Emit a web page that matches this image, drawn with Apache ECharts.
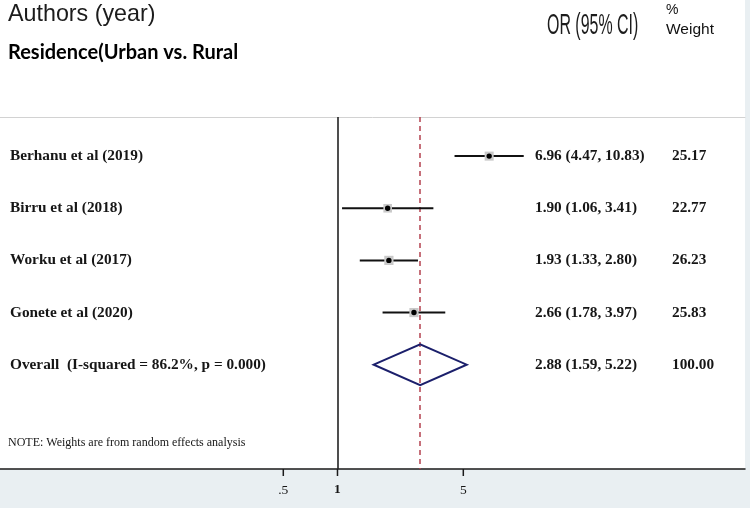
<!DOCTYPE html>
<html>
<head>
<meta charset="utf-8">
<script src="https://cdn.jsdelivr.net/npm/echarts@6/dist/echarts.min.js"></script>
<style>
html,body{margin:0;padding:0;background:#e9eff2;}
#chart{width:750px;height:508px;}
</style>
</head>
<body>
<div id="chart"></div>
<script>
// ---- data ----
const studies = ['Berhanu et al (2019)', 'Birru et al (2018)', 'Worku et al (2017)', 'Gonete et al (2020)'];
const orValues = [6.96, 1.90, 1.93, 2.66];
const ciLower = [4.47, 1.06, 1.33, 1.78];
const ciUpper = [10.83, 3.41, 2.80, 3.97];
const weights = [25.17, 22.77, 26.23, 25.83];

const overallLabel = 'Overall  (I-squared = 86.2%, p = 0.000)';
const overallOR = 2.88;
const overallLower = 1.59;
const overallUpper = 5.22;
const overallWeight = 100.00;

const noteText = 'NOTE: Weights are from random effects analysis';
const tickValues = [0.5, 1, 5];
const tickLabels = ['.5', '1', '5'];

// ---- build ----
const fmt = v => v.toFixed(2);
const studyData = studies.map((s, i) => [ciLower[i], ciUpper[i], orValues[i], i, weights[i]]);
const textRows = studies.map((s, i) => [i, s, fmt(orValues[i]) + ' (' + fmt(ciLower[i]) + ', ' + fmt(ciUpper[i]) + ')', fmt(weights[i])]);
textRows.push([studies.length, overallLabel, fmt(overallOR) + ' (' + fmt(overallLower) + ', ' + fmt(overallUpper) + ')', fmt(overallWeight)]);
textRows.push([studies.length + 1.5, noteText, '', '']);

const xMin = 0.01334, xMax = 183.6;
const yMin = -0.75, yMax = 6;
const serif = '"Liberation Serif", "DejaVu Serif", serif';
const sans = '"Liberation Sans", Arial, sans-serif';
const txtColor = '#161616';

const chart = echarts.init(document.getElementById('chart'), null, {renderer: 'canvas'});
chart.setOption({
  backgroundColor: '#e9eff2',
  animation: false,
  graphic: [
    {type: 'rect', z: -10, shape: {x: 0, y: 0, width: 745, height: 469}, style: {fill: '#ffffff'}, silent: true},
    {type: 'text', x: 8, y: 2, scaleX: 0.97, style: {text: 'Authors (year)', font: '24px ' + sans, fill: '#1c1c1c'}},
    {type: 'text', x: 8, y: 43, style: {text: 'Residence(Urban vs. Rural', font: 'bold 20px Lato, "Open Sans", sans-serif', fill: '#000'}},
    {type: 'text', x: 547, y: 11, scaleX: 0.55, style: {text: 'OR (95% CI)', font: '29px ' + sans, fill: '#1c1c1c'}},
    {type: 'text', x: 666, y: 3, style: {text: '%', font: '14px ' + sans, fill: '#111'}},
    {type: 'text', x: 666, y: 22, style: {text: 'Weight', font: '15.5px ' + sans, fill: '#111'}}
  ],
  grid: {left: 0, right: 5, top: 117, bottom: 39, containLabel: false},
  xAxis: [
    {type: 'log', logBase: 10, min: xMin, max: xMax, position: 'bottom',
     axisLine: {show: true, onZero: false, lineStyle: {color: '#1a1a1a', width: 1.5}},
     axisTick: {show: false}, axisLabel: {show: false}, splitLine: {show: false}, minorTick: {show: false}},
    {type: 'log', logBase: 10, min: xMin, max: xMax, position: 'top',
     axisLine: {show: true, onZero: false, lineStyle: {color: '#d2d2d2', width: 1}},
     axisTick: {show: false}, axisLabel: {show: false}, splitLine: {show: false}}
  ],
  yAxis: {type: 'value', inverse: true, min: yMin, max: yMax, show: false},
  series: [
    {
      type: 'custom', name: 'studies', data: studyData, z: 5,
      renderItem: function (params, api) {
        const lo = api.value(0), hi = api.value(1), or = api.value(2), row = api.value(3), w = api.value(4);
        const p1 = api.coord([lo, row]), p2 = api.coord([hi, row]), pc = api.coord([or, row]);
        const s = 9 * Math.sqrt(w / 25);
        return {type: 'group', children: [
          {type: 'line', shape: {x1: p1[0], y1: p1[1], x2: p2[0], y2: p2[1]}, style: {stroke: '#111', lineWidth: 2}},
          {type: 'rect', shape: {x: pc[0] - s / 2, y: pc[1] - s / 2, width: s, height: s}, style: {fill: '#c9c9c9'}},
          {type: 'circle', shape: {cx: pc[0], cy: pc[1], r: 2.7}, style: {fill: '#000'}}
        ]};
      },
      markLine: {
        silent: true, symbol: 'none', label: {show: false},
        data: [
          {xAxis: 1, lineStyle: {color: '#222', width: 1.6, type: 'solid'}},
          {xAxis: overallOR, lineStyle: {color: '#b4424f', width: 1.5, type: [5, 4]}}
        ]
      }
    },
    {
      type: 'custom', name: 'overall', z: 6,
      data: [[overallLower, overallUpper, overallOR, studies.length]],
      renderItem: function (params, api) {
        const lo = api.value(0), hi = api.value(1), or = api.value(2), row = api.value(3);
        const pl = api.coord([lo, row]), pr = api.coord([hi, row]);
        const pt = api.coord([or, row - 0.39]), pb = api.coord([or, row + 0.39]);
        return {type: 'polygon', shape: {points: [pl, pt, pr, pb]}, style: {fill: 'none', stroke: '#1b1f6b', lineWidth: 2}};
      }
    },
    {
      type: 'custom', name: 'texts', z: 7, data: textRows, clip: false,
      renderItem: function (params, api) {
        const row = api.value(0);
        const y = api.coord([1, row])[1];
        const d = textRows[params.dataIndex];
        const isNote = d[2] === '';
        return {type: 'group', children: [
          {type: 'text', x: isNote ? 8 : 10, y: y, style: {text: d[1], font: isNote ? '12px ' + serif : 'bold 15.3px ' + serif, fill: txtColor, verticalAlign: 'middle', align: 'left'}},
          {type: 'text', x: 535, y: y, style: {text: d[2], font: 'bold 15.3px ' + serif, fill: txtColor, verticalAlign: 'middle', align: 'left'}},
          {type: 'text', x: 672, y: y, style: {text: d[3], font: 'bold 15.3px ' + serif, fill: txtColor, verticalAlign: 'middle', align: 'left'}}
        ]};
      }
    },
    {
      type: 'custom', name: 'ticks', z: 8, clip: false,
      data: tickValues.map((v, i) => [v, i]),
      renderItem: function (params, api) {
        const p = api.coord([api.value(0), yMax]);
        return {type: 'group', children: [
          {type: 'line', shape: {x1: p[0], y1: p[1], x2: p[0], y2: p[1] + 7}, style: {stroke: '#1a1a1a', lineWidth: 1.5}},
          {type: 'text', x: p[0], y: p[1] + 21, style: {text: tickLabels[api.value(1)], font: (api.value(0) === 1 ? 'bold ' : '') + '13.5px ' + serif, fill: txtColor, align: 'center', verticalAlign: 'middle'}}
        ]};
      }
    }
  ]
});
</script>
</body>
</html>
